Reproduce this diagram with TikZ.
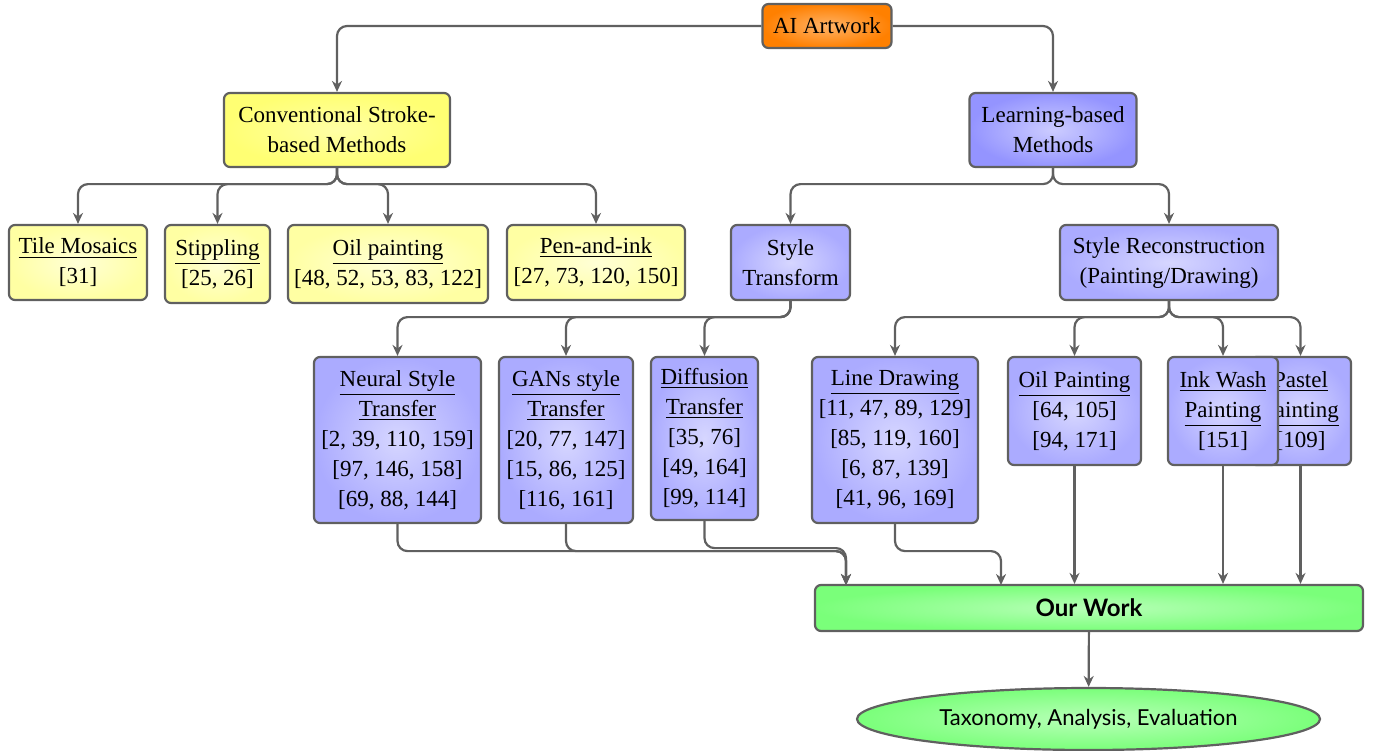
\documentclass[tikz,border=0pt]{standalone}
\usepackage{fontspec}
\setmainfont{Liberation Serif}
\setsansfont{Lato}
\usetikzlibrary{arrows.meta,shapes.geometric}
\definecolor{linegray}{RGB}{96,96,96}
\tikzset{
  box/.style={draw=linegray, line width=1.1pt, rounded corners=3pt, align=center,
    inner sep=2pt, font=\fontsize{11.5}{15}\selectfont},
  yeltop/.style={box, inner color=yellow!35, outer color=yellow!55},
  yelbox/.style={box, inner color=yellow!16, outer color=yellow!36},
  bluetop/.style={box, inner color=blue!20, outer color=blue!42},
  bluebox/.style={box, inner color=blue!16, outer color=blue!33},
  orangebox/.style={box, inner color=orange!60, outer color=orange},
  greenbox/.style={box, inner color=green!28, outer color=green!52},
  conn/.style={draw=linegray, line width=1.1pt, rounded corners=5pt,
    -{Stealth[length=5.5pt,width=5pt]}}
}
\begin{document}
\begin{tikzpicture}[x=0.5pt, y=-0.5pt]
\useasboundingbox (0,0) rectangle (1374,750);
% top levels
\node[orangebox, minimum width=64.5pt, minimum height=22pt] (ai) at (827,26) {AI Artwork};
\node[yeltop, minimum width=113pt, minimum height=37pt] (conv) at (337,130) {Conventional Stroke-\\based Methods};
\node[bluetop, minimum width=83.5pt, minimum height=37pt] (learn) at (1053,130) {Learning-based\\Methods};
% stroke-based methods
\node[yelbox, minimum width=69pt, minimum height=37.5pt] (tile) at (78,262.5) {\underline{Tile Mosaics}\\{[31]}};
\node[yelbox, minimum width=52.5pt, minimum height=39pt] (stip) at (217.5,264) {\underline{Stippling}\\{[25, 26]}};
\node[yelbox, minimum width=100pt, minimum height=39pt] (oil) at (388,264) {\underline{Oil painting}\\{[48, 52, 53, 83, 122]}};
\node[yelbox, minimum width=89pt, minimum height=37.5pt] (pen) at (596,262.5) {\underline{Pen-and-ink}\\{[27, 73, 120, 150]}};
% learning-based methods
\node[bluebox, minimum width=59.5pt, minimum height=37.5pt] (stylet) at (790.5,262.5) {Style\\Transform};
\node[bluebox, minimum width=109pt, minimum height=37.5pt] (styler) at (1169,262.5) {Style Reconstruction\\(Painting/Drawing)};
\node[bluebox, minimum width=83.5pt, minimum height=83pt] (nst) at (397.5,440) {\underline{Neural Style}\\\underline{Transfer}\\{[2, 39, 110, 159]}\\{[97, 146, 158]}\\{[69, 88, 144]}};
\node[bluebox, minimum width=67pt, minimum height=83pt] (gan) at (566,440) {\underline{GANs style}\\\underline{Transfer}\\{[20, 77, 147]}\\{[15, 86, 125]}\\{[116, 161]}};
\node[bluebox, minimum width=53.5pt, minimum height=81.5pt] (diff) at (704.5,438.5) {\underline{Diffusion}\\\underline{Transfer}\\{[35, 76]}\\{[49, 164]}\\{[99, 114]}};
\node[bluebox, minimum width=83pt, minimum height=83pt] (line) at (895,440) {\underline{Line Drawing}\\{[11, 47, 89, 129]}\\{[85, 119, 160]}\\{[6, 87, 139]}\\{[41, 96, 169]}};
\node[bluebox, minimum width=66.5pt, minimum height=54pt] (oilp) at (1074.5,411) {\underline{Oil Painting}\\{[64, 105]}\\{[94, 171]}};
\node[bluebox, minimum width=50.5pt, minimum height=54pt] (pastel) at (1300.5,411) {\underline{Pastel}\\\underline{Painting}\\{[109]}};
\node[bluebox, minimum width=55pt, minimum height=54pt] (ink) at (1223,411) {\underline{Ink Wash}\\\underline{Painting}\\{[151]}};
% our work
\node[greenbox, minimum width=274pt, minimum height=23pt, font=\sffamily\bfseries\fontsize{12}{14}\selectfont] (our) at (1089,608) {Our Work};
\node[greenbox, ellipse, minimum width=231.5pt, minimum height=31pt, font=\sffamily\fontsize{11}{13}\selectfont] (tax) at (1088.5,719) {Taxonomy, Analysis, Evaluation};
\coordinate (joinA) at (846,585);
\coordinate (joinB) at (1001,585);
% connectors
\draw[conn] (ai.west) -| (conv.north);
\draw[conn] (ai.east) -| (learn.north);
\foreach \n in {tile,stip,oil,pen}
  \draw[conn] (conv.south) -- ++(0,16) -| (\n.north);
\foreach \n in {stylet,styler}
  \draw[conn] (learn.south) -- ++(0,16) -| (\n.north);
\foreach \n in {nst,gan,diff}
  \draw[conn] (stylet.south) -- ++(0,16) -| (\n.north);
\foreach \n in {line,oilp,ink,pastel}
  \draw[conn] (styler.south) -- ++(0,16) -| (\n.north);
\foreach \n in {nst,gan,diff}
  \draw[conn] (\n.south) -- ++(0,27) -| (joinA);
\draw[conn] (line.south) -- ++(0,27) -| (joinB);
\foreach \n in {oilp,ink,pastel}
  \draw[conn] (\n.south) -- (\n.south |- our.north);
\draw[conn] (our) -- (tax);
\end{tikzpicture}
\end{document}
